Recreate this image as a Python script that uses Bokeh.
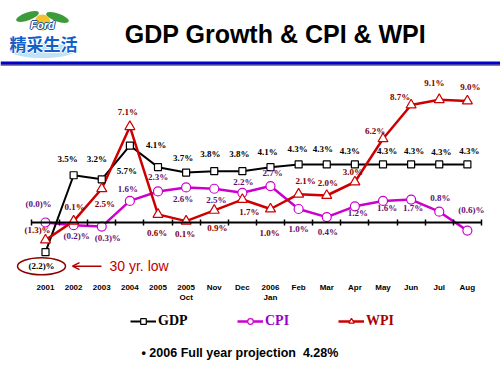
import math
from bokeh.plotting import figure
from bokeh.models import (Range1d, LinearAxis, FixedTicker, ColumnDataSource, Span,
                          Arrow, OpenHead, Legend, LegendItem)
from bokeh.core.properties import value
from bokeh.embed import file_html
from bokeh.resources import INLINE

# ---------------- data ----------------
categories = ["2001", "2002", "2003", "2004", "2005", "2005\nOct", "Nov", "Dec",
              "2006\nJan", "Feb", "Mar", "Apr", "May", "Jun", "Jul", "Aug"]
gdp = [-2.2, 3.5, 3.2, 5.7, 4.1, 3.7, 3.8, 3.8, 4.1, 4.3, 4.3, 4.3, 4.3, 4.3, 4.3, 4.3]
cpi = [-0.0, -0.2, -0.3, 1.6, 2.3, 2.6, 2.5, 2.2, 2.7, 1.0, 0.4, 1.2, 1.6, 1.7, 0.8, -0.6]
wpi = [-1.3, 0.1, 2.5, 7.1, 0.6, 0.1, 0.9, 1.7, 1.0, 2.1, 2.0, 3.0, 6.2, 8.7, 9.1, 9.0]

# label placement (screen px, + = right / down)
gdp_ox = [-4, -6, -5, -3, -2, -3, -4, -3, -3, -1, -4, -5, 4, 3, 2, 2]
gdp_oy = [14, -16, -20, 25, -22, -15, -17, -17, -15, -15, -15, -13, -13, -13, -12, -13]
cpi_ox = [-7, 3, 6, -2, 0, -3, 2, 1, 2, 0, 1, 3, 4, 2, 1, 4]
cpi_oy = [-19, 11, 11, -12, -14, 12, 11, -11, -13, 20, 15, 7, 7, 8, -14, -21]
wpi_ox = [-8, 1, 3, -2, -1, -1, 3, 7, -1, 7, 1, -2, -8, -11, -5, 3]
wpi_oy = [-10, -14, 15, -15, 19, 13, 18, 12, 24, -13, -13, -10, -8, -8, -17, -14]

x = list(range(len(categories)))


def fmt(v):
    if v < 0 or (v == 0 and math.copysign(1, v) < 0):
        return "(%.1f)%%" % abs(v)
    return "%.1f%%" % v


# ---------------- geometry helpers (page px -> data) ----------------
X0, XS = 45.0, 28.125   # page x of first category, px per category
Y0, YS = 222.0, 13.5    # page y of zero line, px per percent


def dx(sx):
    return (sx - X0) / XS


def dy(sy):
    return (Y0 - sy) / YS


W, H = 500, 375
p = figure(width=W, height=H, output_backend="svg", toolbar_location=None,
           x_range=Range1d(dx(0), dx(W)), y_range=Range1d(dy(H), dy(0)),
           x_axis_location=None, y_axis_location=None, min_border=0,
           background_fill_color="white", border_fill_color="white")
p.outline_line_color = None
p.grid.visible = False

SERIF = value("Liberation Serif")
SANS = value("Liberation Sans")

# ---------------- title bar ----------------
p.text(x=[dx(275)], y=[dy(33)], text=["GDP Growth & CPI & WPI"], text_font=SANS,
       text_font_style="bold", text_font_size="25px", text_color="black",
       text_align="center", text_baseline="middle")
p.add_layout(Span(location=dy(62.5), dimension="width", line_color="#0000CC", line_width=3))
p.add_layout(Span(location=dy(64.5), dimension="width", line_color="#000066", line_width=1))

# ---------------- logo ----------------
p.ellipse(x=[dx(42)], y=[dy(50)], width=66, height=15, width_units="screen",
          height_units="screen", fill_color="#BFE3F6", line_color=None)
p.ellipse(x=[dx(27), dx(57)], y=[dy(16), dy(17)], width=24, height=8, angle=[0.35, -0.35],
          width_units="screen", height_units="screen", fill_color="#3C9C3C", line_color=None)
p.circle(x=[dx(42)], y=[dy(22)], radius=8, radius_units="screen",
         fill_color="#F2C230", line_color=None)
for ox, oy in [(-1, 0), (1, 0), (0, -1), (0, 1)]:
    p.text(x=[dx(42)], y=[dy(24)], text=["Ford"], x_offset=ox, y_offset=oy,
           text_font=SANS, text_font_style="bold italic", text_font_size="11px",
           text_color="#1B4F9C", text_align="center", text_baseline="middle")
p.text(x=[dx(42)], y=[dy(24)], text=["Ford"], text_font=SANS,
       text_font_style="bold italic", text_font_size="11px", text_color="white",
       text_align="center", text_baseline="middle")
for ox, oy in [(-1, 0), (1, 0), (0, -1), (0, 1)]:
    p.text(x=[dx(43)], y=[dy(43)], text=["精采生活"], x_offset=ox, y_offset=oy,
           text_font=value("Noto Sans CJK TC"), text_font_style="bold",
           text_font_size="17px", text_color="white", text_align="center",
           text_baseline="middle")
p.text(x=[dx(43)], y=[dy(43)], text=["精采生活"], text_font=value("Noto Sans CJK TC"),
       text_font_style="bold", text_font_size="17px", text_color="#1060C8",
       text_align="center", text_baseline="middle")

# ---------------- axes ----------------
zero_ticks = [i - 0.5 for i in range(len(x) + 1)]
zero_axis = LinearAxis(fixed_location=0, bounds=(-0.5, len(x) - 0.5),
                       ticker=FixedTicker(ticks=zero_ticks),
                       major_label_overrides={t: "" for t in zero_ticks},
                       axis_line_color="black", axis_line_width=2,
                       major_tick_in=3, major_tick_out=3, major_tick_line_width=1.5,
                       minor_tick_line_color=None)
p.add_layout(zero_axis, "below")

cat_axis = LinearAxis(fixed_location=dy(282), ticker=FixedTicker(ticks=x),
                      major_label_overrides={i: c for i, c in enumerate(categories)},
                      axis_line_color=None, major_tick_line_color=None,
                      minor_tick_line_color=None, major_tick_in=0, major_tick_out=0,
                      major_label_standoff=0, major_label_text_font="Liberation Sans",
                      major_label_text_font_style="bold", major_label_text_font_size="8px",
                      major_label_text_color="black")
p.add_layout(cat_axis, "below")

# ---------------- series ----------------
src = ColumnDataSource(dict(x=x, gdp=gdp, cpi=cpi, wpi=wpi,
                            gdp_t=[fmt(v) for v in gdp], cpi_t=[fmt(v) for v in cpi],
                            wpi_t=[fmt(v) for v in wpi],
                            gdp_ox=gdp_ox, gdp_oy=gdp_oy, cpi_ox=cpi_ox, cpi_oy=cpi_oy,
                            wpi_ox=wpi_ox, wpi_oy=wpi_oy))

cl = p.line("x", "cpi", source=src, line_color="#CC00CC", line_width=2.5)
gl = p.line("x", "gdp", source=src, line_color="black", line_width=2)
wl = p.line("x", "wpi", source=src, line_color="#CC0000", line_width=2.5)
cs = p.scatter("x", "cpi", source=src, marker="circle", size=9, fill_color="white",
               line_color="#CC00CC", line_width=1.2)
gs = p.scatter("x", "gdp", source=src, marker="square", size=7, fill_color="white",
               line_color="black", line_width=1.2)
ws = p.scatter("x", "wpi", source=src, marker="triangle", size=10, fill_color="white",
               line_color="#CC0000", line_width=1.2)

for key, col in [("gdp", "black"), ("cpi", "#5E1273"), ("wpi", "#800000")]:
    p.text(x="x", y=key, text=key + "_t", source=src, x_offset=key + "_ox",
           y_offset=key + "_oy", text_font=SERIF, text_font_style="bold",
           text_font_size="9px", text_color=col, text_align="center",
           text_baseline="middle")

# ---------------- "30 yr. low" callout ----------------
ex = x[0] - 4 / XS
ey = gdp[0] - 14 / YS
p.ellipse(x=[ex], y=[ey], width=48, height=17, width_units="screen", height_units="screen",
          fill_color=None, line_color="#8B0000", line_width=1.5)
p.add_layout(Arrow(end=OpenHead(size=7, line_color="#B00000", line_width=1.5),
                   x_start=dx(101), y_start=ey, x_end=dx(72), y_end=ey,
                   line_color="#B00000", line_width=1.5))
p.text(x=[dx(109)], y=[ey], text=["30 yr. low"], text_font=SANS, text_font_size="14px",
       text_color="#C00000", text_align="left", text_baseline="middle")

# ---------------- legends ----------------
for lab, rends, col, lx in [("GDP", [gl, gs], "black", 130),
                            ("CPI", [cl, cs], "#9900CC", 237),
                            ("WPI", [wl, ws], "#AA0000", 338)]:
    leg = Legend(items=[LegendItem(label=lab, renderers=rends)], location=(lx, 46),
                 orientation="horizontal", background_fill_alpha=0, border_line_alpha=0,
                 padding=0, margin=0, glyph_width=26, glyph_height=14, label_standoff=2,
                 label_height=14, label_text_font="Liberation Serif",
                 label_text_font_style="bold", label_text_font_size="14px",
                 label_text_color=col)
    p.add_layout(leg)

# ---------------- footnote ----------------
p.text(x=[dx(141)], y=[dy(352)], text=["\u2022 2006 Full year projection \u00a04.28%"],
       text_font=SANS, text_font_style="bold", text_font_size="12.5px",
       text_color="black", text_align="left", text_baseline="middle")

open("out.html", "w").write(file_html(p, INLINE))
